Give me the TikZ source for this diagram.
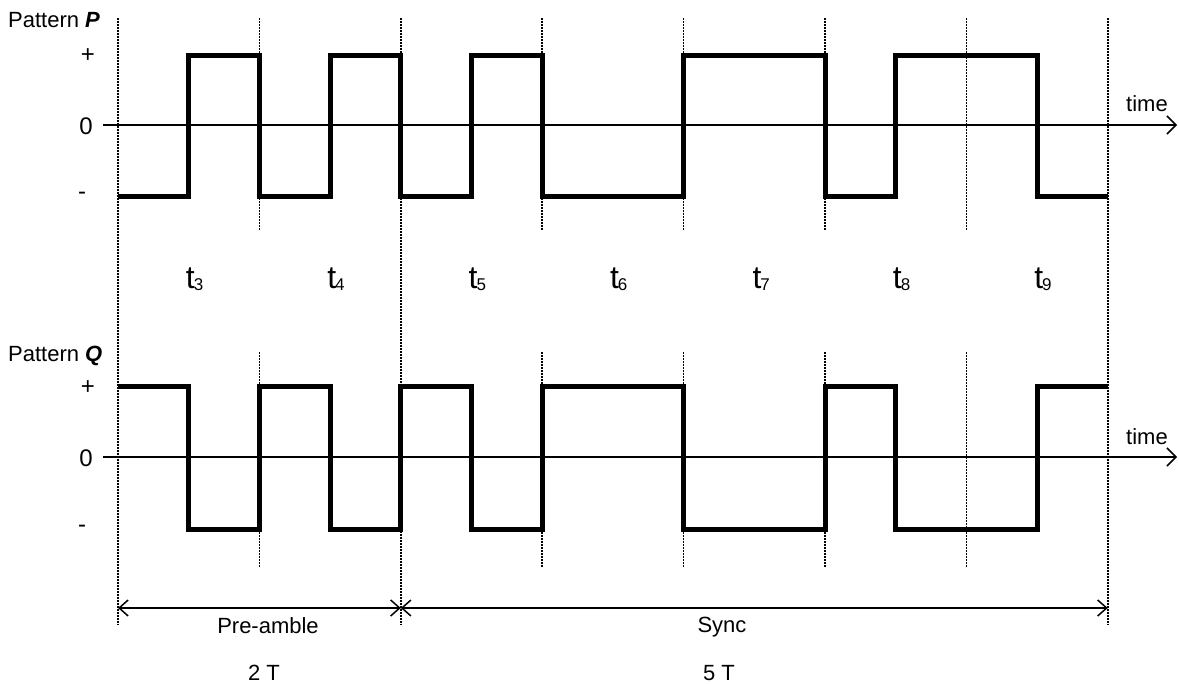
\documentclass[tikz,border=0pt]{standalone}
\usepackage{fontspec}
\setmainfont{Liberation Sans}
\usetikzlibrary{arrows.meta}
\newcommand\tsubl[1]{{\fontsize{32}{32}\selectfont t}\kern-1pt\raisebox{-1.5pt}{\fontsize{17}{17}\selectfont #1}}
\begin{document}
\begin{tikzpicture}[x=1pt,y=-1pt,
 wave/.style={line width=5pt, line join=miter},
 axis/.style={line width=1.6pt, -{Straight Barb[length=9pt,width=18pt,line width=1.5pt]}},
 guide/.style={line width=1.5pt, dash pattern=on 2pt off 1pt},
 dim/.style={line width=1.5pt, {Straight Barb[length=9pt,width=16pt,line width=1.5pt]}-{Straight Barb[length=9pt,width=16pt,line width=1.5pt]}},
 lab/.style={font=\fontsize{22}{22}\selectfont, inner sep=0pt},
 lvl/.style={font=\fontsize{24}{24}\selectfont, inner sep=0pt},
 tlab/.style={inner sep=0pt, anchor=base west}
]
\useasboundingbox (0,0) rectangle (1179,684);
% guides
\foreach \gx in {118,400.8,1107.8} \draw[guide] (\gx,18) -- (\gx,625);
\foreach \gx in {259.4,542.2,683.6,825,966.4} {
  \draw[guide] (\gx,18) -- (\gx,230);
  \draw[guide] (\gx,352) -- (\gx,567);
}
% axes
\draw[axis] (103,125) -- (1177,125);
\draw[axis] (103,457) -- (1177,457);
% waveforms
\draw[wave] (118,197) -- (188.7,197) -- (188.7,56) -- (259.4,56) -- (259.4,197) -- (330.1,197) -- (330.1,56) -- (400.8,56) -- (400.8,197) -- (471.5,197) -- (471.5,56) -- (542.2,56) -- (542.2,197) -- (683.6,197) -- (683.6,56) -- (825,56) -- (825,197) -- (895.7,197) -- (895.7,56) -- (1037.1,56) -- (1037.1,197) -- (1107.8,197);
\draw[wave] (118,387) -- (188.7,387) -- (188.7,530) -- (259.4,530) -- (259.4,387) -- (330.1,387) -- (330.1,530) -- (400.8,530) -- (400.8,387) -- (471.5,387) -- (471.5,530) -- (542.2,530) -- (542.2,387) -- (683.6,387) -- (683.6,530) -- (825,530) -- (825,387) -- (895.7,387) -- (895.7,530) -- (1037.1,530) -- (1037.1,387) -- (1107.8,387);
% dimension lines
\coordinate (d0) at (118,608);
\coordinate (d1) at (400.8,608);
\coordinate (d2) at (1107.8,608);
\draw[dim] (d0) -- (d1);
\draw[dim] (d1) -- (d2);
% labels
\node[lab, anchor=base west] (patP) at (8,28) {Pattern \textbf{\textit{P}}};
\node[lab, anchor=base west] (patQ) at (8,362) {Pattern \textbf{\textit{Q}}};
\node[lvl] (pplus) at (88,56) {+};
\node[lvl] (pzero) at (86,126) {0};
\node[lvl] (pminus) at (82,196) {-};
\node[lvl] (qplus) at (88,388) {+};
\node[lvl] (qzero) at (86,458) {0};
\node[lvl] (qminus) at (82,529) {-};
\node[lab, anchor=base] (ptime) at (1147,112) {time};
\node[lab, anchor=base] (qtime) at (1147,445) {time};
\node[lab, anchor=base] (pre) at (268,633) {Pre-amble};
\node[lab, anchor=base] (sync) at (722,632) {Sync};
\node[lab, anchor=base] (twoT) at (264,680) {2 T};
\node[lab, anchor=base] (fiveT) at (719,680) {5 T};
\node[tlab] (t3) at (185.7,289) {\tsubl{3}};
\node[tlab] (t4) at (327.1,289) {\tsubl{4}};
\node[tlab] (t5) at (468.5,289) {\tsubl{5}};
\node[tlab] (t6) at (609.9,289) {\tsubl{6}};
\node[tlab] (t7) at (752.3,289) {\tsubl{7}};
\node[tlab] (t8) at (892.7,289) {\tsubl{8}};
\node[tlab] (t9) at (1034.1,289) {\tsubl{9}};
\end{tikzpicture}
\end{document}
